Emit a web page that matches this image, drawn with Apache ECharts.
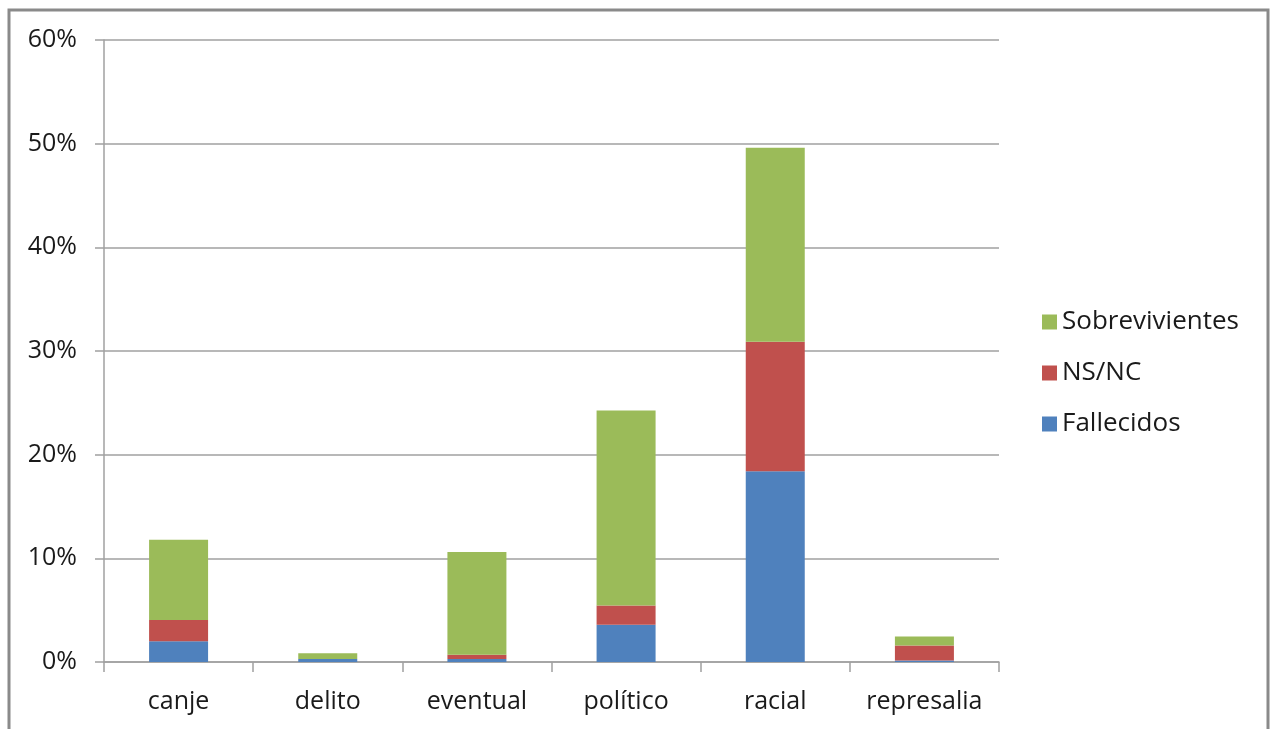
<!DOCTYPE html>
<html>
<head>
<meta charset="utf-8">
<script src="https://cdn.jsdelivr.net/npm/echarts@6/dist/echarts.min.js"></script>
<style>
  html, body { margin: 0; padding: 0; background: #fff; }
  #chart { width: 1271px; height: 729px; }
</style>
</head>
<body>
<div id="chart"></div>
<script>
// Share of cases (%) by category, split by outcome
const categories = ['canje', 'delito', 'eventual', 'político', 'racial', 'represalia'];
const fallecidos = [2.0, 0.3, 0.3, 3.6, 18.4, 0.15];
const nsnc = [2.05, 0.0, 0.4, 1.85, 12.5, 1.45];
const sobrevivientes = [7.75, 0.55, 9.9, 18.8, 18.7, 0.85];
const yTicks = [0, 10, 20, 30, 40, 50, 60];

const FONT = 'Open Sans';
const chart = echarts.init(document.getElementById('chart'), null, { renderer: 'canvas' });

chart.setOption({
  backgroundColor: '#ffffff',
  animation: false,
  textStyle: { fontFamily: FONT },
  graphic: [{
    type: 'rect',
    shape: { x: 9, y: 10, width: 1259, height: 740 },
    style: { fill: 'none', stroke: '#8a8a8a', lineWidth: 3 },
    silent: true
  }],
  grid: { left: 104, right: 272, top: 40, bottom: 67, containLabel: false },
  legend: {
    orient: 'vertical',
    left: 1037,
    top: 304,
    itemWidth: 15,
    itemHeight: 15,
    itemGap: 25,
    icon: 'rect',
    data: ['Sobrevivientes', 'NS/NC', 'Fallecidos'],
    textStyle: { fontFamily: FONT, fontSize: 26, color: '#1a1a1a', padding: [0, 0, 0, 0] }
  },
  xAxis: {
    type: 'category',
    data: categories,
    axisLine: { lineStyle: { color: '#a0a0a0', width: 1.5 } },
    axisTick: { show: true, interval: 0, length: 10, lineStyle: { color: '#a0a0a0', width: 1.5 } },
    axisLabel: { interval: 0, fontFamily: FONT, fontSize: 25, color: '#1a1a1a', margin: 27 }
  },
  yAxis: {
    type: 'value',
    min: yTicks[0],
    max: yTicks[yTicks.length - 1],
    interval: 10,
    axisLine: { show: true, lineStyle: { color: '#a0a0a0', width: 1.5 } },
    axisTick: { show: true, length: 9, lineStyle: { color: '#a0a0a0', width: 1.5 } },
    axisLabel: { fontFamily: FONT, fontSize: 25, color: '#1a1a1a', margin: 27, formatter: '{value}%' },
    splitLine: { show: true, lineStyle: { color: '#a0a0a0', width: 1.5 } }
  },
  series: [
    { name: 'Fallecidos', type: 'bar', stack: 'total', data: fallecidos, barWidth: 59, itemStyle: { color: '#4f81bd' } },
    { name: 'NS/NC', type: 'bar', stack: 'total', data: nsnc, barWidth: 59, itemStyle: { color: '#c0504d' } },
    { name: 'Sobrevivientes', type: 'bar', stack: 'total', data: sobrevivientes, barWidth: 59, itemStyle: { color: '#9bbb59' } }
  ]
});
</script>
</body>
</html>
